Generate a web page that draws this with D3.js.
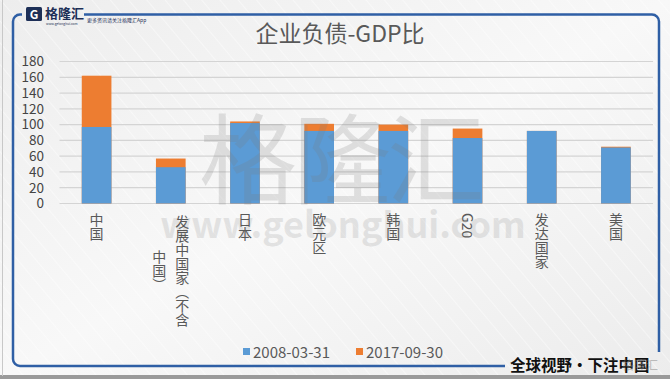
<!DOCTYPE html>
<html><head><meta charset="utf-8">
<script src="https://cdn.jsdelivr.net/npm/d3@7"></script>
<style>
html,body{margin:0;padding:0;background:#f3f3f3;}
svg{display:block;}
text{font-family:"Noto Sans CJK SC","Noto Sans",sans-serif;}
</style></head>
<body><svg id="c" width="670" height="379"></svg>
<script>
const categories = ["中国","发展中国家（不含中国）","日本","欧元区","韩国","G20","发达国家","美国"];
const series2008 = [97, 46, 102, 92, 92, 83, 92, 71];
const series2017 = [162, 57, 104, 101, 100, 95, 92, 72];
const seriesNames = ["2008-03-31", "2017-09-30"];
const yTicks = [0,20,40,60,80,100,120,140,160,180];
const title = "企业负债-GDP比";

(function(){
const svg = d3.select("#c");
const W = 670, H = 379;
const defs = svg.append("defs");
const g1 = defs.append("linearGradient").attr("id","bg").attr("x1","0").attr("y1","0").attr("x2","1").attr("y2","1");
g1.append("stop").attr("offset","0").attr("stop-color","#ededed");
g1.append("stop").attr("offset","0.5").attr("stop-color","#f8f8f8");
g1.append("stop").attr("offset","1").attr("stop-color","#ececec");
const pat = defs.append("pattern").attr("id","stripes").attr("width",14).attr("height",14)
  .attr("patternUnits","userSpaceOnUse").attr("patternTransform","rotate(-40)");
pat.append("line").attr("x1",0).attr("y1",0).attr("x2",0).attr("y2",14).attr("stroke","#ffffff").attr("stroke-width",1.2).attr("opacity",0.7);

svg.append("rect").attr("width",W).attr("height",H).attr("fill","url(#bg)");
svg.append("rect").attr("width",W).attr("height",H).attr("fill","url(#stripes)");
svg.append("rect").attr("x",0).attr("y",375).attr("width",W).attr("height",4).attr("fill","#9a9a9a");
svg.append("line").attr("x1",2.5).attr("x2",2.5).attr("y1",0).attr("y2",376).attr("stroke","#c8c8c8").attr("stroke-width",1);

// frame
const fc = "#2f5fa5";
const r = 7;
const frame = d3.path();
frame.moveTo(22, 14.5);
frame.lineTo(13+r, 14.5);
frame.arcTo(13, 14.5, 13, 14.5+r, r);
frame.lineTo(13, 366-r);
frame.arcTo(13, 366, 13+r, 366, r);
frame.lineTo(505, 366);
svg.append("path").attr("d", frame.toString()).attr("fill","none").attr("stroke",fc).attr("stroke-width",2.5);
const frame2 = d3.path();
frame2.moveTo(84, 14.5);
frame2.lineTo(659-r, 14.5);
frame2.arcTo(659, 14.5, 659, 14.5+r, r);
frame2.lineTo(659, 352);
svg.append("path").attr("d", frame2.toString()).attr("fill","none").attr("stroke",fc).attr("stroke-width",2.5);

// logo
svg.append("rect").attr("x",26).attr("y",7).attr("width",16).attr("height",14).attr("fill","#1d2f57").attr("rx",1.5);
svg.append("text").attr("x",34).attr("y",18.5).attr("text-anchor","middle").attr("font-size",12).attr("font-weight","bold").attr("fill","#ffffff").text("G");
svg.append("text").attr("x",45).attr("y",18).attr("font-size",13).attr("font-weight","bold").attr("fill","#1d2f57").text("格隆汇");
svg.append("text").attr("x",46).attr("y",24.8).attr("font-size",3.3).attr("fill","#1d2f57").text("www.gelonghui.com");
svg.append("text").attr("x",87).attr("y",22).attr("font-size",5).attr("fill","#1d2f57").text("更多资讯请关注格隆汇App");

// title
svg.append("text").attr("x",340).attr("y",42).attr("text-anchor","middle").attr("font-size",23)
  .attr("fill","#595959").text(title);

// scales
const x = d3.scaleBand().domain(categories).range([59.5, 653]).paddingInner(0.6).paddingOuter(0.3);
const y = d3.scaleLinear().domain([0,180]).range([203.5, 61.5]);

// grid
svg.append("g").selectAll("line").data(yTicks).join("line")
  .attr("x1",59.5).attr("x2",653).attr("y1",d=>y(d)).attr("y2",d=>y(d))
  .attr("stroke","#d4d4d4").attr("stroke-width",1.2);

// y axis labels
const yAxis = d3.axisLeft(y).tickValues(yTicks).tickSize(0).tickPadding(0);
const ya = svg.append("g").attr("transform","translate(44,0)").call(yAxis);
ya.select(".domain").remove();
ya.selectAll("text").attr("font-size",13.5).attr("fill","#444").attr("font-family","'Liberation Sans',Arial,sans-serif");

// bars
const colors = ["#5b9bd5","#ed7d31"];
svg.append("g").selectAll("rect").data(categories).join("rect")
  .attr("x",d=>x(d)).attr("width",x.bandwidth())
  .attr("y",(d,i)=>y(series2017[i])).attr("height",(d,i)=>y(0)-y(series2017[i]))
  .attr("fill",colors[1]);
svg.append("g").selectAll("rect").data(categories).join("rect")
  .attr("x",d=>x(d)).attr("width",x.bandwidth())
  .attr("y",(d,i)=>y(series2008[i])).attr("height",(d,i)=>y(0)-y(series2008[i]))
  .attr("fill",colors[0]);

// watermark
svg.append("text").attr("x",340).attr("y",196).attr("text-anchor","middle").attr("font-size",98)
  .attr("fill","#7a7a7a").attr("opacity",0.2).attr("letter-spacing",-4).text("格隆汇");
svg.append("text").attr("x",343).attr("y",238).attr("text-anchor","middle").attr("font-size",36)
  .attr("font-weight","bold").attr("font-family","'DejaVu Sans',sans-serif")
  .attr("fill","#7a7a7a").attr("opacity",0.17).text("www.gelonghui.com");

// x labels (vertical)
const maxPer = 8, pitch = 14.4, colGap = 23, labelTop = 213;
const vert = s => s.replace(/（/g,"︵").replace(/）/g,"︶");
const lg = svg.append("g");
categories.forEach(c => {
  const chars = Array.from(c);
  const lines = [];
  for (let i=0;i<chars.length;i+=maxPer) lines.push(chars.slice(i,i+maxPer).join(""));
  const cx = x(c) + x.bandwidth()/2;
  if (lines.length === 1) {
    lg.append("text").attr("x",cx).attr("y",labelTop).attr("font-size",14).attr("fill","#595959")
      .style("writing-mode","vertical-rl").attr("text-anchor","start").text(vert(lines[0]));
  } else {
    const blockMid = labelTop + maxPer*pitch/2;
    lines.forEach((ln,i) => {
      lg.append("text").attr("x",cx + (lines.length-1)/2*colGap - i*colGap).attr("y",blockMid)
        .attr("font-size",14).attr("fill","#595959")
        .style("writing-mode","vertical-rl").attr("text-anchor","middle").text(vert(ln));
    });
  }
});

// legend
const legX = [243, 356];
seriesNames.forEach((n,i) => {
  svg.append("rect").attr("x",legX[i]).attr("y",348).attr("width",7).attr("height",7).attr("fill",colors[i]);
  svg.append("text").attr("x",legX[i]+10).attr("y",357.5).attr("font-size",15).attr("fill","#595959")
    .attr("font-family","'Liberation Sans',Arial,sans-serif").text(n);
});

// footer slogan
svg.append("text").attr("x",510).attr("y",371).attr("font-size",15.5).attr("font-weight","bold").attr("fill","#111")
  .text("全球视野・下注中国");
svg.append("text").attr("x",622).attr("y",370).attr("font-size",12).attr("fill","#888").attr("opacity",0.5).text("格隆汇");
})();
</script></body></html>
